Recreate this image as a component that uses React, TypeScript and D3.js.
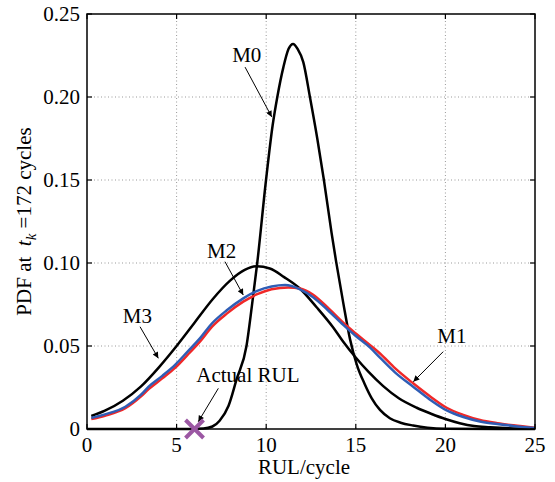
import React, { useRef, useEffect } from "react";
import * as d3 from "d3";

// PDF curves: [RUL, density]
const m0Pts: [number, number][] = [
  [0, 0], [5, 0], [6.5, 0.0003], [7, 0.0015], [7.4, 0.005], [7.9, 0.014], [8.35, 0.03],
  [8.9, 0.05], [9.2, 0.074], [9.5, 0.1], [9.99, 0.15], [10.36, 0.183], [10.62, 0.2],
  [10.96, 0.218], [11.25, 0.229], [11.5, 0.232], [11.75, 0.229], [12.07, 0.221], [12.44, 0.2],
  [12.85, 0.175], [13.22, 0.15], [13.65, 0.118], [13.9, 0.101], [14.3, 0.076], [14.68, 0.054],
  [15.05, 0.039], [15.5, 0.027], [15.89, 0.0185], [16.35, 0.0115], [16.9, 0.0065],
  [17.5, 0.0038], [18.2, 0.0021], [19, 0.0008], [20, 0.0002], [25, 0],
];
const m1Pts: [number, number][] = [
  [0.24, 0.006], [1, 0.008], [2.14, 0.0125], [3, 0.0195], [3.44, 0.024], [4.2, 0.0305],
  [4.93, 0.037], [5.6, 0.0445], [6.3, 0.0526], [6.98, 0.0617], [7.8, 0.0695], [8.72, 0.0767],
  [9.5, 0.0812], [10.3, 0.0842], [11.23, 0.0853], [11.89, 0.0847], [12.6, 0.081],
  [13.4, 0.0735], [14.3, 0.064], [15.0, 0.0575], [15.8, 0.0505], [16.35, 0.0455],
  [17.2, 0.0365], [18.2, 0.0275], [19.1, 0.02], [20.07, 0.0128], [21, 0.0085],
  [21.93, 0.0054], [22.9, 0.0035], [23.8, 0.0022], [25, 0.0008],
];
const m2Pts: [number, number][] = [
  [0.24, 0.0066], [1, 0.0088], [2.14, 0.0134], [3, 0.0205], [3.44, 0.0255], [4.2, 0.032],
  [4.93, 0.0388], [5.6, 0.0465], [6.3, 0.0546], [6.98, 0.0637], [7.8, 0.0715], [8.72, 0.0787],
  [9.5, 0.0832], [10.3, 0.0858], [11.05, 0.0867], [11.89, 0.0841], [12.6, 0.0795],
  [13.4, 0.072], [14.3, 0.0627], [15.0, 0.056], [15.8, 0.049], [16.35, 0.043],
  [17.2, 0.034], [18.2, 0.0255], [19.1, 0.018], [20.07, 0.0112], [21, 0.0072],
  [21.93, 0.0045], [22.9, 0.003], [23.8, 0.0018], [25, 0.0006],
];
const m3Pts: [number, number][] = [
  [0.24, 0.0078], [1, 0.011], [2, 0.017], [3, 0.0255], [4, 0.037], [5, 0.05], [6, 0.064],
  [7, 0.078], [8, 0.0895], [8.8, 0.0958], [9.47, 0.098], [10.2, 0.0967], [11, 0.0915],
  [11.89, 0.0845], [12.8, 0.0735], [13.75, 0.061], [14.3, 0.0525], [14.96, 0.0435],
  [15.7, 0.0345], [16.53, 0.0258], [17.4, 0.0185], [18.4, 0.0128], [19.2, 0.0092],
  [20, 0.006], [20.8, 0.0035], [21.6, 0.0018], [22.5, 0.0011], [23.5, 0.0005], [25, 0.0001],
];
const actualRUL = 6;

const xTicks = [0, 5, 10, 15, 20, 25];
const yTicks = [0, 0.05, 0.1, 0.15, 0.2, 0.25];

// annotation: label, text anchor point, arrow start, arrow tip (data units)
const notes = [
  { label: "M0", at: [8.1, 0.221], from: [8.82, 0.218], to: [10.31, 0.188] },
  { label: "M2", at: [6.7, 0.103], from: [7.7, 0.1008], to: [8.72, 0.0807] },
  { label: "M3", at: [2.0, 0.0639], from: [2.96, 0.0616], to: [3.98, 0.0426] },
  { label: "Actual RUL", at: [6.1, 0.0283], from: [7.33, 0.0245], to: [6.21, 0.0044] },
  { label: "M1", at: [19.55, 0.0518], from: [19.88, 0.0466], to: [18.21, 0.0285] },
];

const App = () => {
  const ref = useRef<SVGSVGElement | null>(null);

  useEffect(() => {
    const svg = d3.select(ref.current);
    svg.selectAll("*").remove();

    const left = 87, right = 535, top = 14, bottom = 429;
    const font = "'Liberation Serif', 'Times New Roman', serif";

    const x = d3.scaleLinear().domain([0, 25]).range([left, right]);
    const y = d3.scaleLinear().domain([0, 0.25]).range([bottom, top]);

    svg.append("defs")
      .append("marker")
      .attr("id", "head")
      .attr("viewBox", "0 0 10 10")
      .attr("refX", 10)
      .attr("refY", 5)
      .attr("markerWidth", 11)
      .attr("markerHeight", 6)
      .attr("markerUnits", "userSpaceOnUse")
      .attr("orient", "auto")
      .append("path")
      .attr("d", "M0,0 L10,5 L0,10 Z")
      .attr("fill", "#000");

    // grid
    const grid = svg.append("g").attr("stroke", "#999").attr("stroke-width", 1).attr("stroke-dasharray", "1,2.5");
    xTicks.slice(1, -1).forEach((t) =>
      grid.append("line").attr("x1", x(t)).attr("x2", x(t)).attr("y1", top).attr("y2", bottom));
    yTicks.slice(1, -1).forEach((t) =>
      grid.append("line").attr("x1", left).attr("x2", right).attr("y1", y(t)).attr("y2", y(t)));

    // curves
    const line = d3.line<[number, number]>()
      .x((d) => x(d[0]))
      .y((d) => y(d[1]))
      .curve(d3.curveMonotoneX);
    const series = [
      { pts: m0Pts, color: "#000" },
      { pts: m3Pts, color: "#000" },
      { pts: m1Pts, color: "#f02828" },
      { pts: m2Pts, color: "#2f5db5" },
    ];
    series.forEach((s) =>
      svg.append("path")
        .attr("d", line(s.pts))
        .attr("fill", "none")
        .attr("stroke", s.color)
        .attr("stroke-width", 2.5)
        .attr("stroke-linejoin", "round"));

    // frame and inward ticks
    svg.append("rect")
      .attr("x", left).attr("y", top)
      .attr("width", right - left).attr("height", bottom - top)
      .attr("fill", "none").attr("stroke", "#000").attr("stroke-width", 1.5);
    const tk = svg.append("g").attr("stroke", "#000").attr("stroke-width", 1.2);
    xTicks.forEach((t) => {
      tk.append("line").attr("x1", x(t)).attr("x2", x(t)).attr("y1", bottom).attr("y2", bottom - 5);
      tk.append("line").attr("x1", x(t)).attr("x2", x(t)).attr("y1", top).attr("y2", top + 5);
    });
    yTicks.forEach((t) => {
      tk.append("line").attr("x1", left).attr("x2", left + 5).attr("y1", y(t)).attr("y2", y(t));
      tk.append("line").attr("x1", right).attr("x2", right - 5).attr("y1", y(t)).attr("y2", y(t));
    });

    const txt = svg.append("g").attr("font-family", font).attr("font-size", 21).attr("fill", "#000");
    xTicks.forEach((t) =>
      txt.append("text").attr("x", x(t)).attr("y", bottom + 23).attr("text-anchor", "middle").text(t));
    yTicks.forEach((t) =>
      txt.append("text").attr("x", left - 7).attr("y", y(t) + 7).attr("text-anchor", "end")
        .text(t === 0 ? "0" : d3.format(".2f")(t)));

    txt.append("text").attr("x", 304).attr("y", 474).attr("text-anchor", "middle").text("RUL/cycle");

    const yl = txt.append("text")
      .attr("transform", `translate(31,${(top + bottom) / 2}) rotate(-90)`)
      .attr("text-anchor", "middle");
    yl.append("tspan").text("PDF at\u00a0\u00a0");
    yl.append("tspan").attr("font-style", "italic").text("t");
    yl.append("tspan").attr("font-style", "italic").attr("font-size", 15).attr("dy", 5).text("k");
    yl.append("tspan").attr("dy", -5).text("\u00a0=172 cycles");

    // annotations
    notes.forEach((n) => {
      txt.append("text").attr("x", x(n.at[0])).attr("y", y(n.at[1])).text(n.label);
      svg.append("line")
        .attr("x1", x(n.from[0])).attr("y1", y(n.from[1]))
        .attr("x2", x(n.to[0])).attr("y2", y(n.to[1]))
        .attr("stroke", "#000").attr("stroke-width", 1)
        .attr("marker-end", "url(#head)");
    });

    // actual RUL marker
    const cx = x(actualRUL), cy = y(0), r = 9;
    const mk = svg.append("g").attr("stroke", "#9b57a3").attr("stroke-width", 4);
    mk.append("line").attr("x1", cx - r).attr("y1", cy - r).attr("x2", cx + r).attr("y2", cy + r);
    mk.append("line").attr("x1", cx - r).attr("y1", cy + r).attr("x2", cx + r).attr("y2", cy - r);
  }, []);

  return (
    <svg
      ref={ref}
      width={555}
      height={482}
      style={{ position: "absolute", left: 0, top: 0, background: "#fff" }}
    />
  );
};

export default App;
